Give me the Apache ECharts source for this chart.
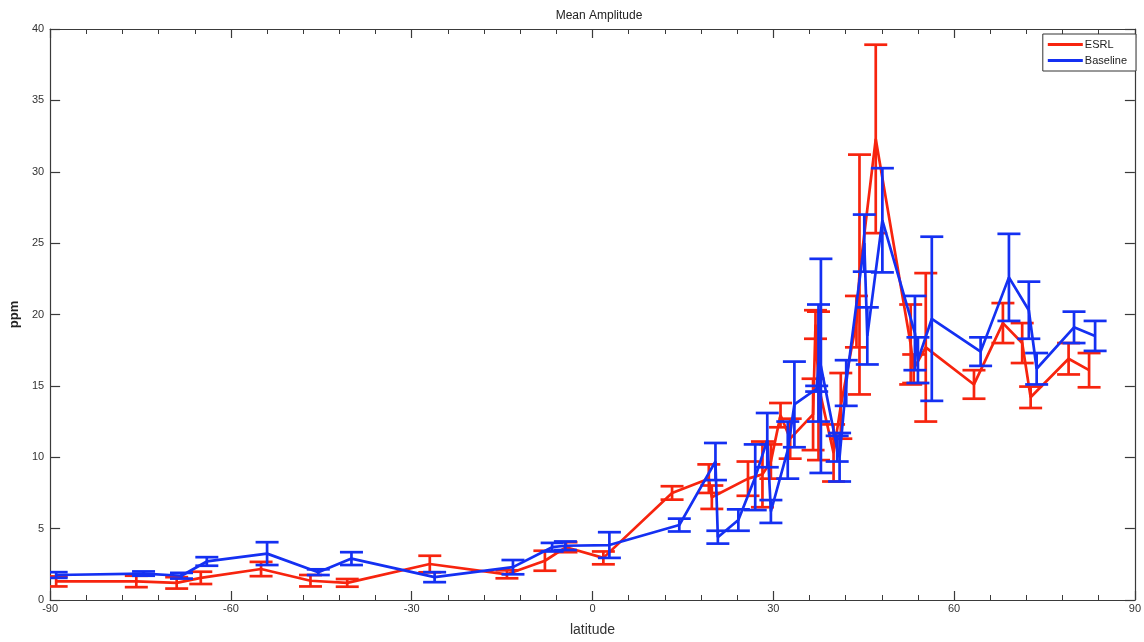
<!DOCTYPE html>
<html>
<head>
<meta charset="utf-8">
<script src="https://cdn.jsdelivr.net/npm/echarts@6/dist/echarts.min.js"></script>
<style>
html,body{margin:0;padding:0;background:#fff;}
#chart{width:1144px;height:642px;}
</style>
</head>
<body>
<div id="chart"></div>
<script>
// ---- Data ----
var xTicks = [-90, -60, -30, 0, 30, 60, 90];
var yTicks = [0, 5, 10, 15, 20, 25, 30, 35, 40];

var esrlLat  = [-89, -75.7, -69, -65, -55, -46.8, -40.7, -27, -14.2, -7.9, -4.4, 1.8, 13.2, 19.3, 19.8, 25.8, 28.2, 29.6, 31.2, 32.8, 36.6, 37.0, 37.5, 40.0, 41.2, 43.8, 44.3, 47.0, 52.8, 53.3, 55.3, 63.3, 68.1, 71.3, 72.7, 79.0, 82.4];
var esrlMean = [1.3, 1.3, 1.2, 1.55, 2.17, 1.35, 1.2, 2.52, 1.8, 2.75, 3.7, 2.95, 7.5, 8.5, 7.2, 8.5, 8.8, 9.7, 12.95, 11.3, 13.0, 19.3, 15.0, 10.3, 13.6, 19.5, 22.8, 32.3, 17.9, 16.2, 17.7, 15.1, 19.4, 18.0, 14.2, 16.9, 16.1];
var esrlErr  = [0.35, 0.4, 0.4, 0.43, 0.5, 0.4, 0.27, 0.58, 0.28, 0.7, 0.35, 0.45, 0.47, 1.0, 0.82, 1.2, 2.3, 1.2, 0.85, 1.4, 2.5, 1.0, 5.2, 2.0, 2.3, 1.8, 8.4, 6.6, 2.8, 1.0, 5.2, 1.0, 1.4, 1.4, 0.75, 1.1, 1.2];

var baseLat  = [-89, -74.5, -68.2, -64, -54, -45.5, -40, -26.2, -13.2, -6.7, -4.5, 2.8, 14.4, 20.4, 20.8, 24.2, 27.0, 29.0, 29.6, 32.4, 33.5, 37.2, 37.5, 37.9, 40.6, 41.0, 42.1, 45.1, 45.6, 48.1, 53.5, 54.0, 56.3, 64.4, 69.1, 72.4, 73.7, 79.9, 83.4];
var baseMean = [1.75, 1.85, 1.7, 2.7, 3.25, 1.95, 2.9, 1.6, 2.3, 3.7, 3.8, 3.85, 5.25, 9.7, 4.4, 5.6, 8.6, 11.2, 6.2, 10.5, 13.7, 14.8, 16.6, 16.4, 10.6, 10.0, 15.2, 25.0, 18.5, 26.6, 18.7, 16.8, 19.7, 17.4, 22.6, 20.3, 16.2, 19.1, 18.5];
var baseErr  = [0.2, 0.15, 0.2, 0.3, 0.8, 0.2, 0.45, 0.35, 0.5, 0.3, 0.3, 0.9, 0.45, 1.3, 0.45, 0.75, 2.3, 1.9, 0.8, 2.0, 3.0, 0.2, 4.1, 7.5, 0.9, 1.7, 1.6, 2.0, 2.0, 3.65, 2.6, 1.6, 5.75, 1.0, 3.05, 2.0, 1.1, 1.1, 1.05];

var seriesNames = ['ESRL', 'Baseline'];
var RED = '#f7240e';
var BLUE = '#1430f2';
var LW = 2.7;

function pairs(lat, mean) {
  return lat.map(function (v, i) { return [v, mean[i]]; });
}
function bars(lat, mean, err) {
  return lat.map(function (v, i) { return [v, mean[i] - err[i], mean[i] + err[i]]; });
}
function errRenderer(color) {
  return function (params, api) {
    var x = api.value(0), lo = api.value(1), hi = api.value(2);
    var pLo = api.coord([x, lo]), pHi = api.coord([x, hi]);
    var hw = 11.5;
    var st = { stroke: color, lineWidth: LW, fill: null };
    return {
      type: 'group',
      children: [
        { type: 'line', shape: { x1: pLo[0], y1: pLo[1], x2: pHi[0], y2: pHi[1] }, style: st },
        { type: 'line', shape: { x1: pLo[0] - hw, y1: pLo[1], x2: pLo[0] + hw, y2: pLo[1] }, style: st },
        { type: 'line', shape: { x1: pHi[0] - hw, y1: pHi[1], x2: pHi[0] + hw, y2: pHi[1] }, style: st }
      ]
    };
  };
}

var FONT = 'Liberation Sans, Arial, Helvetica, sans-serif';
var axisCol = '#3a3a3a';

function xAx(pos, labels) {
  return {
    type: 'value', position: pos,
    min: xTicks[0], max: xTicks[xTicks.length - 1], interval: xTicks[1] - xTicks[0],
    name: labels ? 'latitude' : '', nameLocation: 'middle', nameGap: 23,
    nameTextStyle: { fontFamily: FONT, fontSize: 14, color: '#333' },
    axisLine: { show: true, onZero: false, lineStyle: { color: axisCol, width: 1.2 } },
    axisTick: { show: true, inside: true, length: 9, lineStyle: { color: axisCol, width: 1.2 } },
    minorTick: { show: true, splitNumber: 5, length: 5, lineStyle: { color: axisCol, width: 1 } },
    axisLabel: { show: labels, margin: 3, fontFamily: FONT, fontSize: 11, color: '#333' },
    splitLine: { show: false }, minorSplitLine: { show: false }
  };
}
function yAx(pos, labels) {
  return {
    type: 'value', position: pos,
    min: yTicks[0], max: yTicks[yTicks.length - 1], interval: yTicks[1] - yTicks[0],
    name: labels ? 'ppm' : '', nameLocation: 'middle', nameGap: 24, nameRotate: 90,
    nameTextStyle: { fontFamily: FONT, fontSize: 13, fontWeight: 'bold', color: '#222' },
    axisLine: { show: true, onZero: false, lineStyle: { color: axisCol, width: 1.2 } },
    axisTick: { show: true, inside: true, length: 10, lineStyle: { color: axisCol, width: 1.2 } },
    axisLabel: { show: labels, margin: 6, fontFamily: FONT, fontSize: 11, color: '#333' },
    splitLine: { show: false }
  };
}

var chart = echarts.init(document.getElementById('chart'), null, { renderer: 'canvas' });
chart.setOption({
  animation: false,
  backgroundColor: '#fff',
  title: {
    text: 'Mean Amplitude', left: 594, top: 5, textAlign: 'center',
    textStyle: { fontFamily: FONT, fontSize: 12, fontWeight: 'normal', color: '#222' }
  },
  legend: {
    data: [{ name: seriesNames[0], itemStyle: { color: RED } }, { name: seriesNames[1], itemStyle: { color: BLUE } }],
    orient: 'vertical', right: 8, top: 34,
    icon: 'rect', itemWidth: 35, itemHeight: 3, itemGap: 5,
    padding: [5, 9, 5, 5],
    borderColor: '#333', borderWidth: 1, backgroundColor: '#fff',
    textStyle: { fontFamily: FONT, fontSize: 11, color: '#222', padding: [0, 0, 0, -3] }
  },
  grid: { left: 50, right: 6, top: 29, bottom: 41, containLabel: false },
  xAxis: [xAx('bottom', true), xAx('top', false)],
  yAxis: [yAx('left', true), yAx('right', false)],
  series: [
    {
      name: seriesNames[0], type: 'line', data: pairs(esrlLat, esrlMean),
      showSymbol: false, symbol: 'none', lineStyle: { color: RED, width: LW }, itemStyle: { color: RED }, z: 2
    },
    {
      name: seriesNames[0], type: 'custom', data: bars(esrlLat, esrlMean, esrlErr),
      renderItem: errRenderer(RED), encode: { x: 0, y: [1, 2] }, clip: true, z: 2
    },
    {
      name: seriesNames[1], type: 'line', data: pairs(baseLat, baseMean),
      showSymbol: false, symbol: 'none', lineStyle: { color: BLUE, width: LW }, itemStyle: { color: BLUE }, z: 3
    },
    {
      name: seriesNames[1], type: 'custom', data: bars(baseLat, baseMean, baseErr),
      renderItem: errRenderer(BLUE), encode: { x: 0, y: [1, 2] }, clip: true, z: 3
    }
  ]
});
</script>
</body>
</html>
